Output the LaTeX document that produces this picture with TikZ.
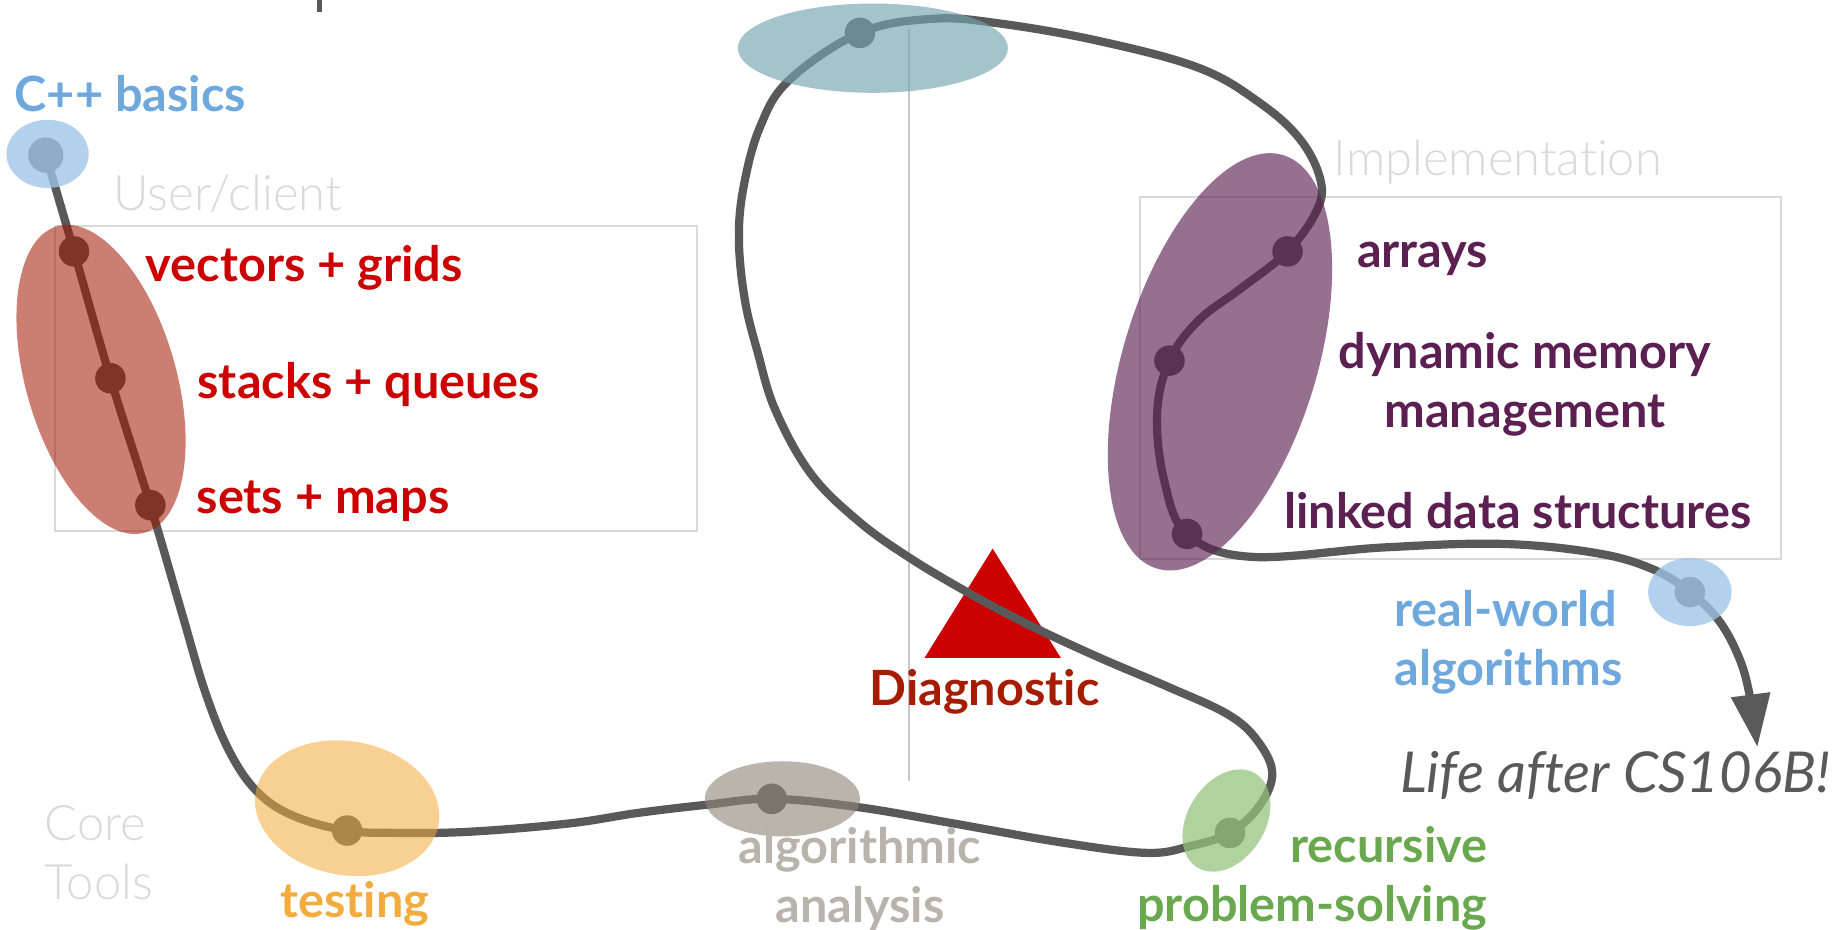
\documentclass[tikz,border=0pt]{standalone}
\usepackage{fontspec}
\setmainfont{Lato}[Ligatures=NoCommon]
\newfontfamily\lightfont{Lato}[UprightFont=* Light,Ligatures=NoCommon]
\usetikzlibrary{arrows.meta,shapes.geometric}

\definecolor{trackgrey}{HTML}{595959}
\definecolor{boxgrey}{HTML}{D9D9D9}
\definecolor{ruleline}{HTML}{C8C8C8}
\definecolor{basicsblue}{HTML}{6FA8DC}
\definecolor{blobblue}{HTML}{9EC4E8}
\definecolor{clientred}{HTML}{CC0000}
\definecolor{diagred}{HTML}{A61C00}
\definecolor{blobred}{HTML}{A21400}
\definecolor{implpurple}{HTML}{5B1F51}
\definecolor{blobteal}{HTML}{75A3AF}
\definecolor{testorange}{HTML}{F3AB3D}
\definecolor{algogrey}{HTML}{B9B3AC}
\definecolor{blobgrey}{HTML}{8F857A}
\definecolor{recgreen}{HTML}{6AA84F}
\definecolor{blobgreen}{HTML}{93C27C}

\tikzset{
  milestone/.style={circle,fill=trackgrey,minimum size=13pt,inner sep=0pt},
  blob/.style={ellipse,inner sep=0pt},
  framebox/.style={draw=boxgrey,line width=.85pt},
  topic/.style={font=\fontsize{20.7}{25}\selectfont\bfseries,align=center,inner sep=0pt},
  faint/.style={font=\fontsize{20.8}{25}\selectfont\lightfont,text=boxgrey,inner sep=0pt},
  track/.style={trackgrey,line width=3.5pt}
}

\begin{document}
\begin{tikzpicture}[x=.5pt, y=-.5pt]
\useasboundingbox (0,0) rectangle (1568,791);

% frames and markers
\draw[framebox] (47,192) rectangle (593,452);
\draw[framebox] (970,168) rectangle (1516,476);
\draw[ruleline,line width=.85pt] (773.5,25) -- (773.5,665);
\draw[trackgrey,line width=2.3pt] (272,0) -- (272,10.5);
\fill[clientred] (845,467) -- (903,560) -- (787,560) -- cycle;

\foreach \name/\x/\y/\sz in {cpp/39/132/15pt, vectors/63/214/13pt, stacks/94/322/13pt, sets/128/430/13pt,
    testing/295.5/707/13pt, analysis/657/680/13pt, recursion/1047/709/13pt, diag/732/28/13pt,
    arrays/1096/214/13pt, memory/995.5/307/13pt, linked/1010.5/454.5/13pt, world/1438.5/504/13pt}
\node[milestone,minimum size=\sz] (\name) at (\x,\y) {};

\coordinate (lifeafter) at (1496,636);

\draw[track,-{Triangle[length=22.5pt,width=16pt]}] plot[smooth,tension=.62] coordinates {
  (cpp) (vectors) (stacks) (sets) (154,519) (175,590) (196,641) (220,675) (251,695) (testing)
  (338,709) (400,708) (484,701) (543,692) (602,685) (analysis) (730,687) (812,701) (903,717) (976,726) (1014,720)
  (recursion) (1072,686) (1083,658) (1070,630) (1045,608) (995,585) (934,559) (876,532) (825,505) (773,474) (730,443)
  (690,403) (660,349) (645,300) (634,255) (629,204) (633,159) (647,108) (672,68) (diag) (794,16) (851,20) (936,35) (1021,58)
  (1073,88) (1107,119) (1124,153) (1121,179) (arrays) (1057,245) (1020,273) (memory) (985,352)
  (991,409) (linked) (1065,474) (1178,466) (1279,463) (1360,471) (1408,485) (world) (1463,528)
  (1480,559) (1489,590) (lifeafter)};

% groups lie over the track
\node[blob,fill=blobblue,fill opacity=.78,minimum width=35pt,minimum height=29pt] (cppblob) at (40.5,131) {};
\node[blob,fill=blobred,fill opacity=.55,minimum width=135.6pt,minimum height=64pt,rotate=-74] (clientblob) at (86,323) {};
\node[blob,fill=testorange,fill opacity=.56,minimum width=79pt,minimum height=57pt,rotate=-10] (testblob) at (295.5,688) {};
\node[blob,fill=blobgrey,fill opacity=.615,minimum width=66pt,minimum height=32pt] (analysisblob) at (666,680) {};
\node[blob,fill=blobgreen,fill opacity=.735,minimum width=47pt,minimum height=33pt,rotate=58] (recblob) at (1044,698.5) {};
\node[blob,fill=blobteal,fill opacity=.65,minimum width=115pt,minimum height=38pt] (diagblob) at (743,41) {};
\node[blob,fill=implpurple,fill opacity=.64,minimum width=184pt,minimum height=82.5pt,rotate=73] (implblob) at (1038.5,308) {};
\node[blob,fill=blobblue,fill opacity=.78,minimum width=35.5pt,minimum height=29pt] (worldblob) at (1438.5,504) {};

\node[topic,text=basicsblue] (cpplabel) at (111,80) {C++ basics};
\node[faint] (clientlabel) at (194,165) {User/client};
\node[topic,text=clientred] (vectorslabel) at (259,228) {vectors + grids};
\node[topic,text=clientred] (stackslabel) at (314,327) {stacks + queues};
\node[topic,text=clientred] (setslabel) at (275,427) {sets + maps};
\node[faint] (impllabel) at (1275,138) {Implementation};
\node[topic,text=implpurple] (arrayslabel) at (1211,220) {arrays};
\node[topic,text=implpurple] (memorylabel) at (1298,327) {dynamic memory\\management};
\node[topic,text=implpurple] (linkedlabel) at (1292,435) {linked data structures};
\node[topic,text=basicsblue,align=left] (worldlabel) at (1284,547) {real-world\\algorithms};
\node[topic,text=diagred] (diaglabel) at (838,589) {Diagnostic};
\node[topic,text=testorange] (testlabel) at (302,769) {testing};
\node[faint,align=left] (corelabel) at (84,726) {Core\\Tools};
\node[topic,text=algogrey] (analysislabel) at (732,748) {algorithmic\\analysis};
\node[topic,text=recgreen,align=right] (reclabel) at (1117,748) {recursive\\problem-solving};
\node[font=\fontsize{24}{28}\selectfont\itshape,text=trackgrey,inner sep=0pt] (lifelabel) at (1375,660) {Life after CS106B!};

\end{tikzpicture}
\end{document}
